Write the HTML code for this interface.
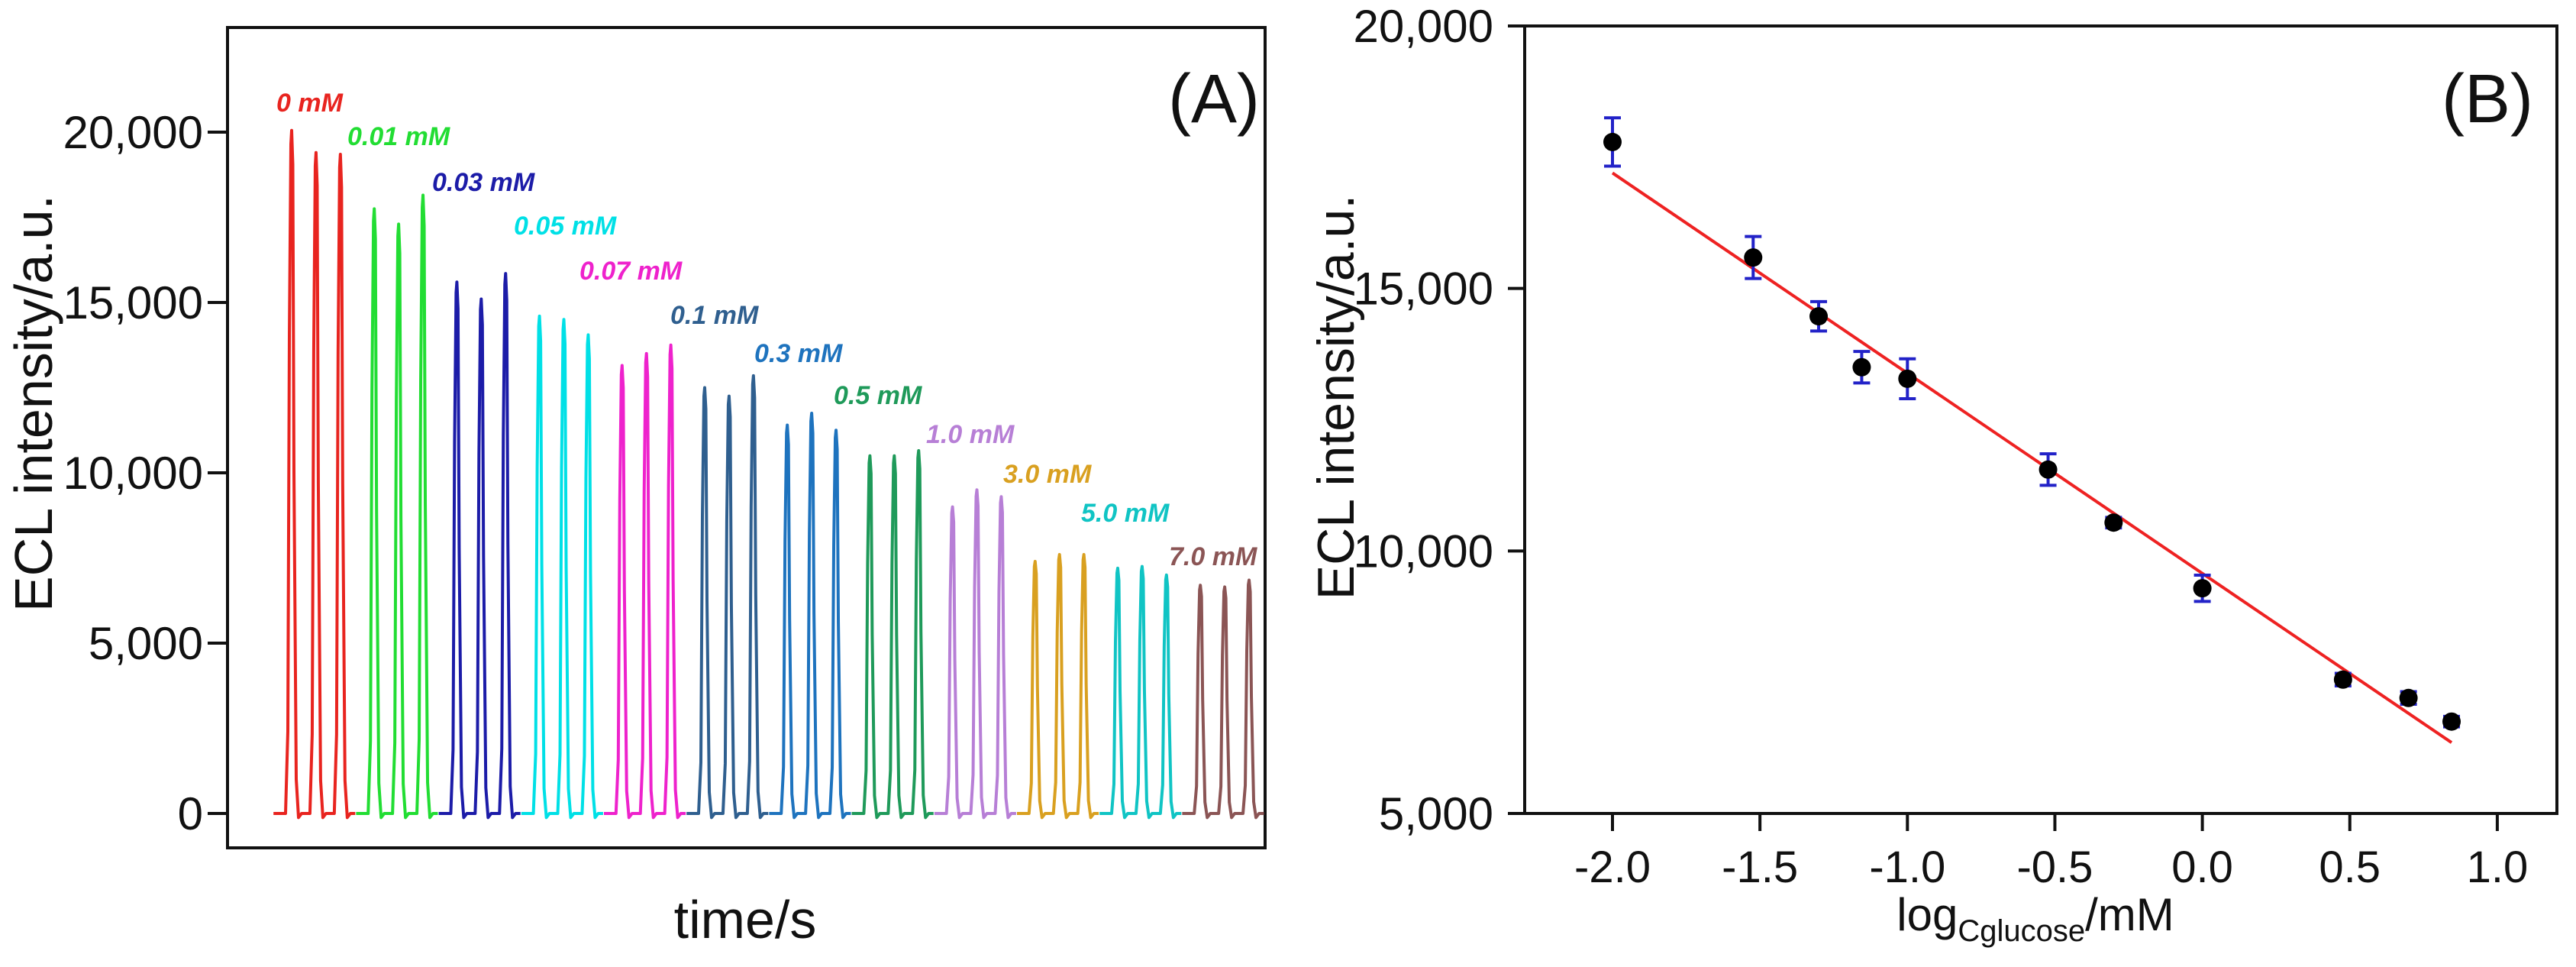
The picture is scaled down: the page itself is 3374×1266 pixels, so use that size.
<!DOCTYPE html>
<html><head><meta charset="utf-8"><style>
html,body{margin:0;padding:0;background:#fff;}
svg{display:block;font-family:"Liberation Sans",sans-serif;}
</style></head><body>
<svg id="fig" width="3374" height="1266" viewBox="0 0 3374 1266" xmlns="http://www.w3.org/2000/svg">
<g id="panelA"></g>
<g id="panelB"></g>
</svg>
<script>
// ---- Panel A data ----
const groupLabels = ["0 mM","0.01 mM","0.03 mM","0.05 mM","0.07 mM","0.1 mM","0.3 mM","0.5 mM","1.0 mM","3.0 mM","5.0 mM","7.0 mM"];
const groupColors = ["#e8241f","#22dd33","#1c1ca8","#00e0e6","#ee22cc","#2f5f8f","#1e73be","#1f9a5a","#b77fd6","#d9a020","#10c4c4","#8b5555"];
const groupStart = [0,10,20,30,40,50,60,70,80,90,100,110];
const peakOffset = [0,2.95,5.9];
const peak1 = [20050,17750,15600,14600,13150,12500,11400,10500,9000,7400,7200,6700];
const peak2 = [19400,17300,15100,14500,13500,12250,11750,10500,9500,7600,7250,6650];
const peak3 = [19350,18150,15850,14050,13750,12850,11250,10650,9300,7600,7000,6850];
const labelX = [362,455,566,673,759,878,988,1092,1213,1314,1416,1531];
const labelY = [146,190,250,307,366,424,474,529,580,632,683,740];
const yTicksA = [0,5000,10000,15000,20000];
const yTickLabelsA = ["0","5,000","10,000","15,000","20,000"];

// ---- Panel B data ----
const logC = [-2.0,-1.523,-1.301,-1.155,-1.0,-0.523,-0.301,0.0,0.477,0.699,0.845];
const ecl = [17790,15590,14470,13500,13280,11550,10540,9290,7550,7200,6750];
const eclErr = [460,400,280,300,380,300,100,250,120,120,100];
const fitX = [-2.0,0.845];
const fitY = [17200,6350];
const xTicksB = [-2.0,-1.5,-1.0,-0.5,0.0,0.5,1.0];
const xTickLabelsB = ["-2.0","-1.5","-1.0","-0.5","0.0","0.5","1.0"];
const yTicksB = [5000,10000,15000,20000];
const yTickLabelsB = ["5,000","10,000","15,000","20,000"];

const NS="http://www.w3.org/2000/svg";
function mk(parent,tag,attrs,text){const e=document.createElementNS(NS,tag);for(const k in attrs)e.setAttribute(k,attrs[k]);if(text!==undefined)e.textContent=text;parent.appendChild(e);return e;}

// ---- Panel A ----
const A=document.getElementById('panelA');
const xA=t=>382+t*10.82;
const yA=v=>1065-v*(892/20000);
let e;
e=mk(A,'rect',{x:298,y:36,width:1359,height:1074,fill:'none',stroke:'#111','stroke-width':4});


yTicksA.forEach((v,i)=>{
  e=mk(A,'line',{x1:272,x2:298,y1:yA(v),y2:yA(v),stroke:'#111','stroke-width':4});
  
  
  e=mk(A,'text',{x:266,y:yA(v)+21,'text-anchor':'end','font-size':60,fill:'#111'},yTickLabelsA[i]);
  
  
});
const peaksAll=[peak1,peak2,peak3];
groupLabels.forEach((lab,g)=>{
  const col=groupColors[g];
  const t0=groupStart[g];
  let d=`M${xA(t0-2.2)},${yA(0)}`;
  peakOffset.forEach((o,i)=>{
    const t=t0+o, v=peaksAll[i][g];
    d+=` L${xA(t)-8},${yA(0)} L${xA(t)-5},${yA(v*0.12)} L${xA(t)-3},${yA(v*0.7)} L${xA(t)-1},${yA(v*0.98)} L${xA(t)},${yA(v)} L${xA(t)+1.5},${yA(v*0.95)} L${xA(t)+3},${yA(v*0.5)} L${xA(t)+6},${yA(v*0.05)} L${xA(t)+9},${yA(-120)} L${xA(t)+13},${yA(0)}`;
  });
  d+=` L${xA(t0+peakOffset[2]+1.8)},${yA(0)}`;
  e=mk(A,'path',{d:d,fill:'none',stroke:col,'stroke-width':4,'stroke-linejoin':'round'});
  
  
  e=mk(A,'text',{x:labelX[g],y:labelY[g],'font-size':34,'font-weight':'bold','font-style':'italic',fill:col},lab);
  
  
});
e=mk(A,'text',{x:0,y:0,transform:'translate(68,528) rotate(-90)','text-anchor':'middle','font-size':70,fill:'#111'},'ECL intensity/a.u.');


e=mk(A,'text',{x:976,y:1228,'text-anchor':'middle','font-size':70,fill:'#111'},'time/s');


e=mk(A,'text',{x:1590,y:160,'text-anchor':'middle','font-size':90,fill:'#111'},'(A)');



// ---- Panel B ----
const B=document.getElementById('panelB');
const xB=v=>2112+(v+2)*386.3;
const yB=v=>1065-(v-5000)*(1031/15000);
e=mk(B,'rect',{x:1997,y:34,width:1352,height:1031,fill:'none',stroke:'#111','stroke-width':4});


yTicksB.forEach((v,i)=>{
  e=mk(B,'line',{x1:1975,x2:1997,y1:yB(v),y2:yB(v),stroke:'#111','stroke-width':4});
  
  
  e=mk(B,'text',{x:1956,y:yB(v)+21,'text-anchor':'end','font-size':60,fill:'#111'},yTickLabelsB[i]);
  
  
});
xTicksB.forEach((v,i)=>{
  e=mk(B,'line',{x1:xB(v),x2:xB(v),y1:1065,y2:1088,stroke:'#111','stroke-width':4});
  
  
  e=mk(B,'text',{x:xB(v),y:1155,'text-anchor':'middle','font-size':58,fill:'#111'},xTickLabelsB[i]);
  
  
});
e=mk(B,'line',{x1:xB(fitX[0]),y1:yB(fitY[0]),x2:xB(fitX[1]),y2:yB(fitY[1]),stroke:'#ee2222','stroke-width':4});


logC.forEach((x,i)=>{
  const cx=xB(x), cy=yB(ecl[i]), top=yB(ecl[i]+eclErr[i]), bot=yB(ecl[i]-eclErr[i]);
  e=mk(B,'path',{d:`M${cx},${top} L${cx},${bot} M${cx-11},${top} L${cx+11},${top} M${cx-11},${bot} L${cx+11},${bot}`,stroke:'#2222c8','stroke-width':4,fill:'none'});
  
  
  e=mk(B,'circle',{cx:cx,cy:cy,r:12,fill:'#000'});
  
  
});
e=mk(B,'text',{x:0,y:0,transform:'translate(1773,520) rotate(-90)','text-anchor':'middle','font-size':68,fill:'#111'},'ECL intensity/a.u.');


e=mk(B,'text',{x:2666,y:1218,'text-anchor':'middle','font-size':60,fill:'#111'});


mk(e,'tspan',{},'log');
mk(e,'tspan',{'font-size':40,dy:14},'Cglucose');
mk(e,'tspan',{dy:-14},'/mM');
e=mk(B,'text',{x:3258,y:160,'text-anchor':'middle','font-size':90,fill:'#111'},'(B)');


</script>
</body></html>
